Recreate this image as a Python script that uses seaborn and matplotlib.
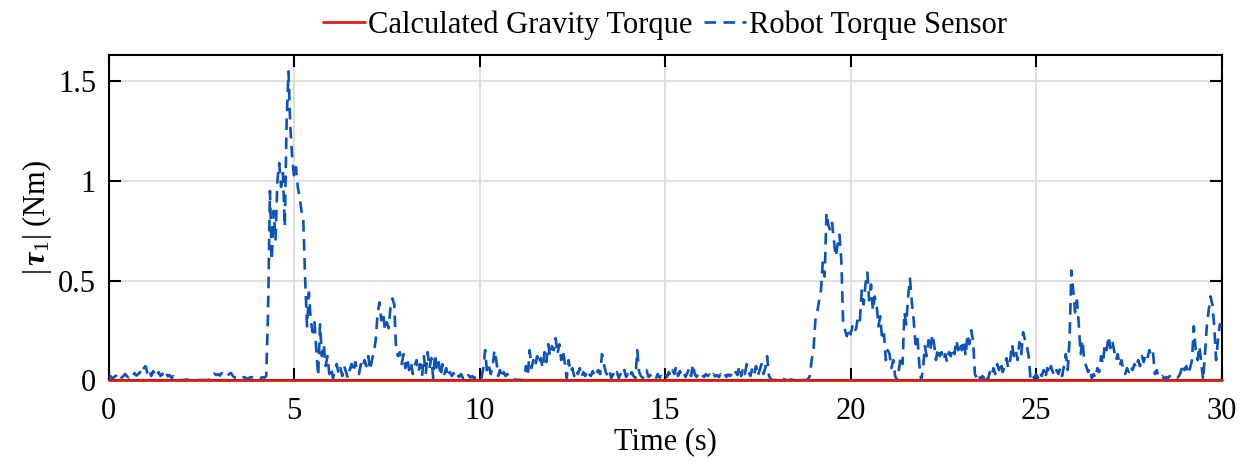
import numpy as np
import pandas as pd
import seaborn as sns
import matplotlib.pyplot as plt

# Sample step of the logged joint-1 torque (s)
dt = 0.05

# Measured |tau_1| from the robot torque sensor, one row per second (20 samples each)
sensor_torque = [
    0.010, 0.020, 0.008, 0.015, 0.022, 0.010, 0.025, 0.012, 0.020, 0.030, 0.018, 0.012, 0.028, 0.020, 0.035, 0.022, 0.030, 0.040, 0.028, 0.060,
    0.070, 0.030, 0.050, 0.020, 0.045, 0.030, 0.015, 0.040, 0.020, 0.032, 0.015, 0.035, 0.018, 0.025, 0.010, 0.020, 0.012, 0.005, 0.000, 0.000,
    0.000, 0.000, 0.003, 0.000, 0.000, 0.000, 0.002, 0.000, 0.000, 0.000, 0.000, 0.000, 0.000, 0.000, 0.002, 0.000, 0.020, 0.032, 0.025, 0.030,
    0.022, 0.035, 0.025, 0.030, 0.020, 0.030, 0.036, 0.020, 0.012, 0.015, 0.010, 0.006, 0.012, 0.015, 0.010, 0.006, 0.012, 0.015, 0.010, 0.012,
    0.010, 0.015, 0.010, 0.014, 0.012, 0.020, 0.350, 0.950, 0.600, 0.850, 0.700, 1.000, 1.090, 0.970, 1.040, 0.770, 1.300, 1.550, 1.270, 1.120,
    1.020, 1.070, 0.970, 0.920, 0.850, 0.800, 0.500, 0.270, 0.440, 0.300, 0.240, 0.290, 0.150, 0.020, 0.280, 0.120, 0.180, 0.070, 0.120, 0.030,
    0.060, 0.010, 0.050, 0.080, 0.030, 0.060, 0.020, 0.070, 0.040, 0.010, 0.050, 0.080, 0.040, 0.090, 0.050, 0.030, 0.080, 0.060, 0.100, 0.070,
    0.120, 0.050, 0.100, 0.140, 0.200, 0.330, 0.390, 0.300, 0.340, 0.250, 0.290, 0.260, 0.370, 0.410, 0.380, 0.150, 0.120, 0.140, 0.080, 0.130,
    0.060, 0.110, 0.050, 0.090, 0.030, 0.070, 0.100, 0.040, 0.080, 0.020, 0.120, 0.030, 0.140, 0.060, 0.110, 0.010, 0.130, 0.050, 0.090, 0.020,
    0.080, 0.030, 0.060, 0.015, 0.040, 0.020, 0.035, 0.010, 0.025, 0.015, 0.030, 0.010, 0.020, 0.008, 0.025, 0.012, 0.020, 0.010, 0.015, 0.020,
    0.025, 0.010, 0.060, 0.150, 0.040, 0.070, 0.030, 0.060, 0.150, 0.100, 0.020, 0.050, 0.010, 0.040, 0.020, 0.030, 0.010, 0.008, 0.005, 0.003,
    0.000, 0.002, 0.000, 0.000, 0.000, 0.070, 0.020, 0.150, 0.060, 0.100, 0.070, 0.120, 0.080, 0.110, 0.060, 0.140, 0.090, 0.180, 0.120, 0.170,
    0.150, 0.210, 0.130, 0.180, 0.100, 0.150, 0.080, 0.010, 0.100, 0.040, 0.060, 0.020, 0.050, 0.030, 0.060, 0.015, 0.040, 0.020, 0.050, 0.030,
    0.020, 0.045, 0.015, 0.035, 0.050, 0.030, 0.130, 0.080, 0.040, 0.020, 0.045, 0.010, 0.030, 0.015, 0.040, 0.010, 0.030, 0.020, 0.050, 0.015,
    0.030, 0.010, 0.040, 0.020, 0.010, 0.150, 0.040, 0.020, 0.010, 0.030, 0.050, 0.015, 0.025, 0.010, 0.020, 0.008, 0.030, 0.012, 0.020, 0.010,
    0.030, 0.015, 0.040, 0.020, 0.050, 0.030, 0.070, 0.020, 0.045, 0.025, 0.040, 0.015, 0.035, 0.060, 0.020, 0.080, 0.030, 0.015, 0.035, 0.020,
    0.025, 0.015, 0.030, 0.020, 0.028, 0.012, 0.030, 0.018, 0.025, 0.015, 0.030, 0.020, 0.035, 0.015, 0.028, 0.020, 0.032, 0.018, 0.040, 0.025,
    0.070, 0.020, 0.060, 0.030, 0.080, 0.040, 0.020, 0.060, 0.030, 0.070, 0.020, 0.050, 0.080, 0.030, 0.060, 0.120, 0.020, 0.005, 0.000, 0.000,
    0.000, 0.002, 0.000, 0.000, 0.005, 0.000, 0.000, 0.000, 0.003, 0.000, 0.000, 0.000, 0.000, 0.005, 0.000, 0.000, 0.000, 0.004, 0.020, 0.100,
    0.150, 0.300, 0.340, 0.400, 0.450, 0.590, 0.520, 0.840, 0.780, 0.750, 0.790, 0.700, 0.620, 0.680, 0.730, 0.600, 0.280, 0.250, 0.220, 0.260,
    0.230, 0.270, 0.240, 0.260, 0.320, 0.300, 0.450, 0.380, 0.480, 0.540, 0.400, 0.480, 0.350, 0.420, 0.380, 0.270, 0.320, 0.200, 0.230, 0.100,
    0.150, 0.130, 0.060, 0.100, 0.020, 0.000, 0.050, 0.120, 0.080, 0.340, 0.280, 0.420, 0.510, 0.390, 0.300, 0.180, 0.220, 0.080, 0.000, 0.050,
    0.170, 0.120, 0.200, 0.150, 0.230, 0.180, 0.100, 0.160, 0.120, 0.140, 0.100, 0.130, 0.090, 0.140, 0.120, 0.160, 0.130, 0.200, 0.150, 0.190,
    0.150, 0.200, 0.120, 0.230, 0.180, 0.250, 0.200, 0.030, 0.010, 0.030, 0.000, 0.020, 0.010, 0.030, 0.000, 0.040, 0.020, 0.060, 0.030, 0.080,
    0.050, 0.090, 0.040, 0.070, 0.110, 0.060, 0.100, 0.180, 0.120, 0.150, 0.100, 0.190, 0.130, 0.240, 0.200, 0.170, 0.120, 0.000, 0.020, 0.010,
    0.030, 0.010, 0.040, 0.020, 0.050, 0.010, 0.060, 0.030, 0.070, 0.040, 0.020, 0.050, 0.030, 0.060, 0.020, 0.070, 0.130, 0.050, 0.200, 0.550,
    0.450, 0.340, 0.400, 0.280, 0.130, 0.200, 0.090, 0.070, 0.040, 0.060, 0.010, 0.030, 0.010, 0.060, 0.040, 0.120, 0.080, 0.180, 0.150, 0.220,
    0.160, 0.200, 0.150, 0.100, 0.130, 0.070, 0.100, 0.050, 0.030, 0.060, 0.040, 0.070, 0.050, 0.080, 0.060, 0.100, 0.070, 0.120, 0.090, 0.130,
    0.110, 0.150, 0.120, 0.140, 0.030, 0.050, 0.015, 0.010, 0.020, 0.008, 0.015, 0.010, 0.020, 0.012, 0.008, 0.015, 0.010, 0.020, 0.040, 0.080,
    0.050, 0.070, 0.030, 0.060, 0.100, 0.270, 0.150, 0.100, 0.170, 0.090, 0.000, 0.130, 0.270, 0.350, 0.420, 0.380, 0.270, 0.100, 0.200, 0.280,
    0.270,
]

time_s = np.arange(len(sensor_torque)) * dt

# Model-based gravity torque on joint 1 (zero throughout the run)
gravity_torque = [0.0] * len(sensor_torque)

series_labels = ["Calculated Gravity Torque", "Robot Torque Sensor"]
x_ticks = [0, 5, 10, 15, 20, 25, 30]
y_ticks = [0, 0.5, 1, 1.5]
y_tick_labels = ["0", "0.5", "1", "1.5"]

df = pd.DataFrame({"time": time_s, "gravity": gravity_torque, "sensor": sensor_torque})

sns.set_theme(style="ticks")
plt.rcParams["font.family"] = ["Liberation Serif", "DejaVu Serif"]
plt.rcParams["text.color"] = "black"
plt.rcParams["axes.labelcolor"] = "black"
plt.rcParams["xtick.color"] = "black"
plt.rcParams["ytick.color"] = "black"
plt.rcParams["mathtext.fontset"] = "custom"
plt.rcParams["mathtext.rm"] = "Liberation Serif"
plt.rcParams["mathtext.it"] = "Liberation Serif:italic"
plt.rcParams["mathtext.bf"] = "Liberation Serif:bold"
plt.rcParams["mathtext.bfit"] = "Liberation Serif:italic:bold"

fig = plt.figure(figsize=(12.49, 4.66), dpi=100)
ax = fig.add_axes([0.0869, 0.1845, 0.8912, 0.6975])

red = "#D91E18"
blue = "#0A52BC"
font_size = 22

sns.lineplot(data=df, x="time", y="sensor", ax=ax, color=blue, linewidth=1.9,
             linestyle="--", dashes=False, label=series_labels[1], zorder=3)
sns.lineplot(data=df, x="time", y="gravity", ax=ax, color=red, linewidth=2.0,
             label=series_labels[0], zorder=4)
ax.lines[0].set_dashes((4.4, 2.8))
ax.lines[1].set_clip_on(False)

ax.set_xlim(0, 30)
ax.set_ylim(0, 1.633)
ax.set_xticks(x_ticks)
ax.set_xticklabels([str(v) for v in x_ticks])
ax.set_yticks(y_ticks)
ax.set_yticklabels(y_tick_labels)

ax.grid(True, color="#d9d9d9", linewidth=1.2)
ax.set_axisbelow(True)
for side in ["top", "right", "left", "bottom"]:
    ax.spines[side].set_visible(True)
    ax.spines[side].set_color("black")
    ax.spines[side].set_linewidth(1.5)

ax.tick_params(axis="both", which="major", direction="in", length=8.5, width=1.5,
               labelsize=font_size, top=True, right=True, colors="black")
ax.tick_params(axis="x", pad=12)
ax.tick_params(axis="y", pad=9)

ax.set_xlabel("Time (s)", fontsize=font_size, labelpad=1)
ax.set_ylabel(r"$|\,\mathbfit{\tau}_{1}|$ (Nm)", fontsize=font_size, labelpad=3)

handles, labels = ax.get_legend_handles_labels()
order = [labels.index(series_labels[0]), labels.index(series_labels[1])]
leg = ax.legend([handles[i] for i in order], [labels[i] for i in order],
                loc="lower center", bbox_to_anchor=(0.5, 1.0), ncol=2, frameon=False,
                fontsize=font_size, handlelength=1.35, handletextpad=0.1, columnspacing=0.4,
                borderaxespad=0.1)

fig.savefig("out.png", dpi=100)
